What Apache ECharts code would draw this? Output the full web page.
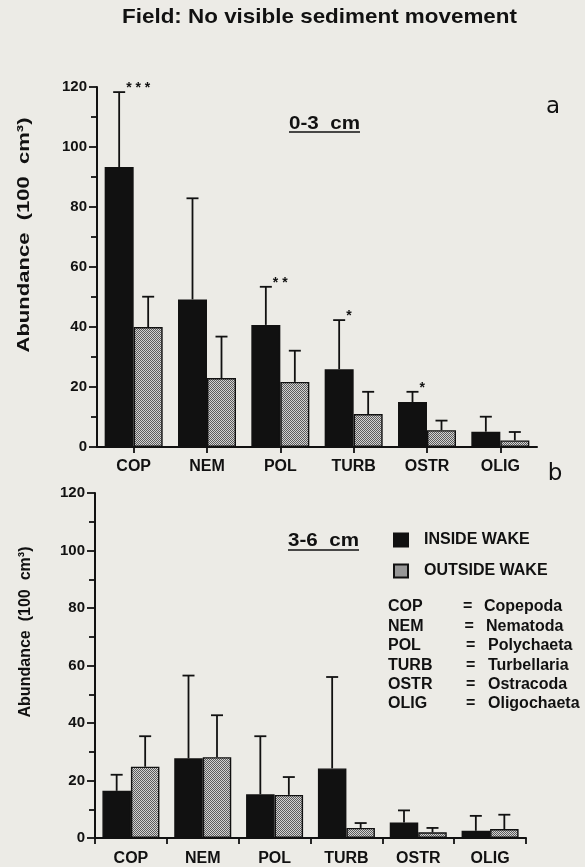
<!DOCTYPE html>
<html><head><meta charset="utf-8">
<script src="https://cdn.jsdelivr.net/npm/echarts@6/dist/echarts.min.js"></script>
<style>html,body{margin:0;padding:0;background:#ecebe6}#chart{width:585px;height:867px}</style>
</head><body><div id="chart"></div>
<script>
// ---------- data ----------
const categories = ['COP', 'NEM', 'POL', 'TURB', 'OSTR', 'OLIG'];
const seriesNames = ['INSIDE WAKE', 'OUTSIDE WAKE'];
const yTickMax = 120;
const yTickStep = 20;
// Panel a: 0-3 cm
const insideA = [93.3, 49.2, 40.7, 25.9, 15.0, 5.1];
const insideAErr = [25.0, 33.7, 12.7, 16.4, 3.4, 5.0];
const outsideA = [40.0, 23.0, 21.7, 11.0, 5.6, 2.2];
const outsideAErr = [10.1, 13.8, 10.4, 7.4, 3.2, 2.8];
const starsA = ['***', '', '**', '*', '*', ''];
// Panel b: 3-6 cm
const insideB = [16.4, 27.7, 15.2, 24.2, 5.4, 2.5];
const insideBErr = [5.6, 28.8, 20.2, 31.8, 4.2, 5.2];
const outsideB = [24.8, 28.1, 15.0, 3.5, 2.0, 3.1];
const outsideBErr = [10.6, 14.6, 6.2, 1.7, 1.5, 5.0];
// Key
const abbrevShort = ['COP', 'NEM', 'POL', 'TURB', 'OSTR', 'OLIG'];
const abbrevLong = ['Copepoda', 'Nematoda', 'Polychaeta', 'Turbellaria', 'Ostracoda', 'Oligochaeta'];
const titleText = 'Field: No visible sediment movement';
const yName = 'Abundance  (100  cm³)';

// ---------- styling ----------
const FF = '"Liberation Sans", Arial, sans-serif';
const INK = '#111';
const pat = document.createElement('canvas');
pat.width = 2; pat.height = 2;
const pc = pat.getContext('2d');
pc.fillStyle = '#d2d2d2'; pc.fillRect(0, 0, 2, 2);
pc.fillStyle = '#5c5c5c'; pc.fillRect(0, 0, 1, 1); pc.fillRect(1, 1, 1, 1);
const greyFill = { image: pat, repeat: 'repeat' };

const mctx = document.createElement('canvas').getContext('2d');
function fitScale(text, font, target) { mctx.font = font; return target / mctx.measureText(text).width; }

function yAxisCfg(gi) {
  return {
    type: 'value', gridIndex: gi, min: 0, max: yTickMax, interval: yTickStep,
    axisLine: { show: true, lineStyle: { color: INK, width: 2 } },
    axisTick: { show: true, length: 8, lineStyle: { color: INK, width: 1.8 } },
    minorTick: { show: true, splitNumber: 2, length: 6, lineStyle: { color: INK, width: 1.8 } },
    splitLine: { show: false },
    axisLabel: { color: INK, fontFamily: FF, fontWeight: 'bold', fontSize: 15, margin: 10 }
  };
}
function xAxisCfg(gi, align, margin) {
  return {
    type: 'category', gridIndex: gi, data: categories,
    axisLine: { show: true, lineStyle: { color: INK, width: 2 } },
    axisTick: { show: true, alignWithLabel: align, length: 6, lineStyle: { color: INK, width: 1.8 } },
    axisLabel: { color: INK, fontFamily: FF, fontWeight: 'bold', fontSize: 16, margin: margin }
  };
}
function barSeries(name, gi, data, bw, fill) {
  return {
    type: 'bar', name: name, xAxisIndex: gi, yAxisIndex: gi, data: data,
    barWidth: bw, barGap: '0%', z: 2,
    itemStyle: { color: fill, borderColor: INK, borderWidth: 1.4 }
  };
}
function errSeries(gi, means, errs, sign, bw, stars) {
  return {
    type: 'custom', name: 'err', xAxisIndex: gi, yAxisIndex: gi, z: 3, silent: true,
    data: means.map((m, i) => [i, m, m + errs[i]]),
    renderItem(params, api) {
      const i = api.value(0);
      const base = api.coord([i, api.value(1)]);
      const top = api.coord([i, api.value(2)]);
      const x = base[0] + sign * bw / 2;
      const cap = 6;
      const ls = { stroke: INK, lineWidth: 1.8 };
      const children = [
        { type: 'line', shape: { x1: x, y1: base[1], x2: x, y2: top[1] }, style: ls },
        { type: 'line', shape: { x1: x - cap, y1: top[1], x2: x + cap, y2: top[1] }, style: ls }
      ];
      const s = stars && stars[params.dataIndex];
      if (s) {
        children.push({ type: 'text', x: x + 7, y: top[1] - 4,
          style: { text: s.split('').join(' '), font: 'bold 14px ' + FF, fill: INK, align: 'left', verticalAlign: 'middle' } });
      }
      return { type: 'group', children: children };
    }
  };
}

// ---------- graphics (titles, key) ----------
const graphics = [];
const titleFont = 'bold 21px ' + FF;
graphics.push({ type: 'text', x: 122, y: 17, scaleX: fitScale(titleText, titleFont, 395),
  style: { text: titleText, font: titleFont, fill: INK, align: 'left', verticalAlign: 'middle' } });
const subFont = 'bold 18px ' + FF;
[['0-3  cm', 289, 124, 132], ['3-6  cm', 288, 541, 550]].forEach(([t, x, y, uy]) => {
  graphics.push({ type: 'text', x: x, y: y, scaleX: fitScale(t, subFont, 71),
    style: { text: t, font: subFont, fill: INK, align: 'left', verticalAlign: 'middle' } });
  graphics.push({ type: 'line', shape: { x1: x, y1: uy, x2: x + 71, y2: uy }, style: { stroke: INK, lineWidth: 1.6 } });
});
const nameFont = 'bold 17px ' + FF;
[[24, 235, 235], [25, 632, 171]].forEach(([x, y, len]) => {
  graphics.push({ type: 'text', x: x, y: y, rotation: Math.PI / 2, scaleX: fitScale(yName, nameFont, len),
    style: { text: yName, font: nameFont, fill: INK, align: 'center', verticalAlign: 'middle' } });
});
graphics.push({ type: 'text', x: 553, y: 107, style: { text: 'a', font: '23px "DejaVu Sans", sans-serif', fill: INK, align: 'center', verticalAlign: 'middle' } });
graphics.push({ type: 'text', x: 555, y: 474, style: { text: 'b', font: '23px "DejaVu Sans", sans-serif', fill: INK, align: 'center', verticalAlign: 'middle' } });
abbrevShort.forEach((s, i) => {
  const y = 607 + i * 19.4;
  const f = 'bold 16px ' + FF;
  graphics.push({ type: 'text', x: 388, y: y, style: { text: s, font: f, fill: INK, align: 'left', verticalAlign: 'middle' } });
  graphics.push({ type: 'text', x: 463 + Math.min(i, 2) * 1.5, y: y, style: { text: '=', font: f, fill: INK, align: 'left', verticalAlign: 'middle' } });
  graphics.push({ type: 'text', x: 484 + Math.min(i, 2) * 2, y: y, style: { text: abbrevLong[i], font: f, fill: INK, align: 'left', verticalAlign: 'middle' } });
});

const BWA = 29, BWB = 28.5;
const option = {
  backgroundColor: '#ecebe6',
  animation: false,
  grid: [
    { left: 97, right: 48, top: 87, bottom: 420 },
    { left: 95, right: 59, top: 493, bottom: 27 }
  ],
  xAxis: [xAxisCfg(0, true, 12), xAxisCfg(1, false, 13)],
  yAxis: [yAxisCfg(0), yAxisCfg(1)],
  legend: {
    data: seriesNames, orient: 'vertical', left: 388, top: 527, itemWidth: 14, itemHeight: 13, itemGap: 15,
    icon: 'rect', selectedMode: false,
    textStyle: { fontFamily: FF, fontWeight: 'bold', fontSize: 16, color: INK, padding: [0, 0, 0, 11] }
  },
  series: [
    barSeries(seriesNames[0], 0, insideA, BWA, INK),
    barSeries(seriesNames[1], 0, outsideA, BWA, greyFill),
    barSeries(seriesNames[0], 1, insideB, BWB, INK),
    barSeries(seriesNames[1], 1, outsideB, BWB, greyFill),
    errSeries(0, insideA, insideAErr, -1, BWA, starsA),
    errSeries(0, outsideA, outsideAErr, 1, BWA, null),
    errSeries(1, insideB, insideBErr, -1, BWB, null),
    errSeries(1, outsideB, outsideBErr, 1, BWB, null)
  ],
  graphic: graphics
};
const chart = echarts.init(document.getElementById('chart'), null, { renderer: 'canvas' });
chart.setOption(option);
</script>
</body></html>
